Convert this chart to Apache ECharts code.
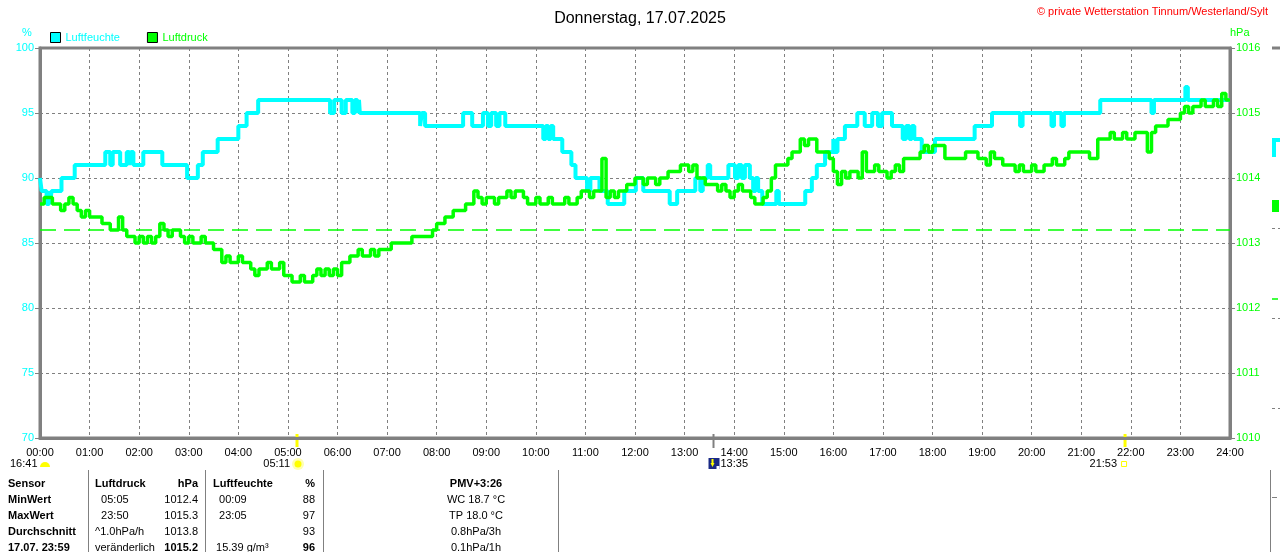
<!DOCTYPE html>
<html>
<head>
<meta charset="utf-8">
<title>Donnerstag, 17.07.2025</title>
<script src="https://cdn.jsdelivr.net/npm/echarts@6/dist/echarts.min.js"></script>
<style>
  html, body { margin: 0; padding: 0; background: #fff; }
  #chart { width: 1280px; height: 552px; }
</style>
</head>
<body>
<div id="chart"></div>
<script>
// Tageskurve Luftfeuchte / Luftdruck, x-Achse in Minuten ab 00:00
const chartTitle = 'Donnerstag, 17.07.2025';
const copyright = '\u00a9 private Wetterstation Tinnum/Westerland/Sylt';

const hourLabels = ['00:00','01:00','02:00','03:00','04:00','05:00','06:00','07:00','08:00',
  '09:00','10:00','11:00','12:00','13:00','14:00','15:00','16:00','17:00','18:00','19:00',
  '20:00','21:00','22:00','23:00','24:00'];

// Luftfeuchte in %: [Minute, Wert], Wert gilt bis zum naechsten Eintrag
const humidity = [
  [0,90],[2,89],[8,88],[11,89],[12,88],[14,89],[26,90],[42,91],[79,92],[85,91],[88,92],
  [97,91],[105,92],[108,91],[110,92],[113,91],[125,92],[148,91],[178,90],[191,91],[197,92],
  [215,93],[240,94],[250,95],[264,96],[351,95],[356,96],[365,95],[370,96],[378,95],[381,96],
  [384,95],[386,96],[387,95],[460,94],[462,95],[466,94],[512,95],[523,94],[536,95],[542,94],
  [546,95],[552,94],[556,95],[563,94],[609,93],[612,94],[615,93],[618,94],[621,93],[632,92],
  [643,91],[648,90],[662,89],[666,90],[677,89],[687,88],[707,89],[721,90],[730,89],[762,88],
  [771,89],[793,90],[799,89],[802,90],[808,91],[811,90],[833,91],[841,90],[845,91],[849,90],
  [853,91],[859,90],[863,89],[866,90],[869,89],[874,88],[891,89],[894,88],[926,89],[934,90],
  [940,91],[950,92],[960,93],[962,92],[965,93],[974,94],[989,95],[998,94],[1007,95],[1014,94],
  [1019,95],[1031,94],[1044,93],[1048,94],[1052,93],[1055,94],[1058,93],[1067,92],[1083,93],
  [1131,94],[1152,95],[1186,94],[1189,95],[1224,94],[1227,95],[1236,94],[1239,95],[1283,96],
  [1345,95],[1348,96],[1386,97],[1389,96],[1440,96]
];

// Luftdruck in hPa, alle 5 Minuten ab 00:00 (eine Zeile je Stunde)
const pressure = [
  1013.6,1013.7,1013.7,1013.6,1013.6,1013.5,1013.6,1013.7,1013.6,1013.5,1013.4,1013.5,
  1013.4,1013.4,1013.4,1013.3,1013.3,1013.2,1013.2,1013.4,1013.2,1013.1,1013.1,1013.0,
  1013.1,1013.0,1013.1,1013.0,1013.1,1013.3,1013.2,1013.1,1013.2,1013.2,1013.1,1013.0,
  1013.1,1013.0,1013.0,1013.1,1013.0,1013.0,1012.9,1012.9,1012.7,1012.8,1012.7,1012.7,
  1012.8,1012.7,1012.7,1012.6,1012.5,1012.6,1012.6,1012.7,1012.6,1012.6,1012.7,1012.5,
  1012.5,1012.4,1012.4,1012.5,1012.4,1012.4,1012.5,1012.6,1012.5,1012.6,1012.5,1012.6,
  1012.5,1012.7,1012.7,1012.8,1012.8,1012.9,1012.8,1012.8,1012.9,1012.8,1012.9,1012.9,
  1012.9,1013.0,1013.0,1013.0,1013.0,1013.0,1013.1,1013.1,1013.1,1013.1,1013.1,1013.2,
  1013.3,1013.3,1013.4,1013.4,1013.5,1013.5,1013.5,1013.6,1013.6,1013.8,1013.7,1013.6,
  1013.7,1013.7,1013.6,1013.7,1013.7,1013.8,1013.7,1013.8,1013.8,1013.7,1013.6,1013.6,
  1013.7,1013.6,1013.6,1013.7,1013.6,1013.6,1013.6,1013.7,1013.6,1013.6,1013.7,1013.8,
  1013.8,1013.7,1013.8,1013.8,1014.3,1013.7,1013.8,1013.7,1013.8,1013.8,1013.9,1013.9,
  1014.0,1014.0,1013.9,1014.0,1014.0,1013.9,1014.0,1014.0,1014.1,1014.1,1014.1,1014.2,
  1014.2,1014.1,1014.2,1014.0,1014.0,1013.9,1013.9,1013.9,1013.8,1013.9,1013.8,1013.7,
  1013.8,1013.9,1013.8,1013.8,1013.7,1013.6,1013.6,1013.7,1013.8,1014.0,1014.2,1014.2,
  1014.2,1014.3,1014.4,1014.4,1014.6,1014.5,1014.6,1014.6,1014.4,1014.4,1014.4,1014.3,
  1014.1,1013.9,1014.1,1014.0,1014.1,1014.1,1014.0,1014.4,1014.1,1014.1,1014.2,1014.1,
  1014.1,1014.0,1014.1,1014.2,1014.1,1014.3,1014.3,1014.3,1014.3,1014.4,1014.5,1014.4,
  1014.5,1014.5,1014.5,1014.3,1014.3,1014.3,1014.3,1014.3,1014.4,1014.4,1014.4,1014.3,
  1014.3,1014.2,1014.4,1014.3,1014.3,1014.2,1014.2,1014.2,1014.1,1014.2,1014.1,1014.1,
  1014.2,1014.1,1014.1,1014.2,1014.2,1014.3,1014.2,1014.2,1014.3,1014.4,1014.4,1014.4,
  1014.4,1014.4,1014.3,1014.3,1014.6,1014.6,1014.6,1014.7,1014.6,1014.6,1014.7,1014.6,
  1014.6,1014.7,1014.7,1014.7,1014.4,1014.7,1014.8,1014.8,1014.8,1014.9,1014.9,1014.9,
  1015.0,1015.1,1015.0,1015.1,1015.1,1015.2,1015.1,1015.1,1015.2,1015.1,1015.3,1015.2,
  1015.2
];
const pressureStep = 5;
const refPressure = 1013.2;

// Sonnenzeiten (Tageslaenge, Aufgang, Hoechststand, Untergang)
const dayLength = '16:41';
const sunRise = '05:11';
const sunNoon = '13:35';
const sunSet = '21:53';

// Tabelle unter dem Diagramm
const tableRows = [
  ['Sensor', 'Luftdruck', 'hPa', 'Luftfeuchte', '%', 'PMV+3:26'],
  ['MinWert', '  05:05', '1012.4', '  00:09', '88', 'WC 18.7 \u00b0C'],
  ['MaxWert', '  23:50', '1015.3', '  23:05', '97', 'TP 18.0 \u00b0C'],
  ['Durchschnitt', '^1.0hPa/h', '1013.8', '', '93', '0.8hPa/3h'],
  ['17.07. 23:59', 'ver\u00e4nderlich', '1015.2', ' 15.39 g/m\u00b3', '96', '0.1hPa/1h']
];

const FONT = "'Liberation Sans', Arial, sans-serif";
const CYAN = '#00ffff';
const GREEN = '#00ff00';
const GREY = '#808080';

function toMinutes(hhmm) {
  const p = hhmm.split(':');
  return (+p[0]) * 60 + (+p[1]);
}

const chart = echarts.init(document.getElementById('chart'));

chart.setOption({
  animation: false,
  backgroundColor: '#fff',
  title: {
    text: chartTitle,
    left: 'center',
    top: 6,
    textStyle: { fontFamily: FONT, fontSize: 16, fontWeight: 'normal', color: '#000' }
  },
  legend: {
    left: 50,
    top: 32,
    padding: 0,
    itemWidth: 10,
    itemHeight: 10,
    itemGap: 27,
    icon: 'rect',
    selectedMode: false,
    itemStyle: { borderColor: '#000', borderWidth: 1 },
    textStyle: { fontFamily: FONT, fontSize: 11 },
    data: [
      { name: 'Luftfeuchte', textStyle: { color: CYAN } },
      { name: 'Luftdruck', textStyle: { color: GREEN } }
    ]
  },
  grid: {
    left: 40, right: 50, top: 48, bottom: 114,
    show: true, borderColor: GREY, borderWidth: 3
  },
  xAxis: {
    type: 'value',
    min: 0, max: 1440, interval: 60,
    axisLine: { lineStyle: { color: GREY, width: 3 } },
    axisTick: { show: false },
    axisLabel: {
      color: '#000', fontFamily: FONT, fontSize: 11, margin: 9,
      showMinLabel: true, showMaxLabel: true,
      formatter: v => hourLabels[Math.round(v / 60)]
    },
    splitLine: { show: true, lineStyle: { color: GREY, type: [3, 3], width: 1 } }
  },
  yAxis: [
    {
      type: 'value', position: 'left',
      min: 70, max: 100, interval: 5,
      axisLine: { show: true, lineStyle: { color: GREY, width: 3 } },
      axisTick: { show: true, length: 5, lineStyle: { color: GREY, width: 1 } },
      axisLabel: { color: CYAN, fontFamily: FONT, fontSize: 11, margin: 6 },
      splitLine: { show: true, lineStyle: { color: GREY, type: [3, 3], width: 1 } }
    },
    {
      type: 'value', position: 'right',
      min: 1010, max: 1016, interval: 1,
      axisLine: { show: true, lineStyle: { color: GREY, width: 3 } },
      axisTick: { show: true, length: 5, lineStyle: { color: GREY, width: 1 } },
      axisLabel: { color: GREEN, fontFamily: FONT, fontSize: 11, margin: 6, formatter: v => String(v) },
      splitLine: { show: false }
    }
  ],
  series: [
    {
      name: 'Luftfeuchte',
      type: 'line',
      yAxisIndex: 0,
      step: 'end',
      showSymbol: false,
      color: CYAN,
      lineStyle: { color: CYAN, width: 4 },
      data: humidity
    },
    {
      name: 'Luftdruck',
      type: 'line',
      yAxisIndex: 1,
      step: 'end',
      showSymbol: false,
      color: GREEN,
      lineStyle: { color: GREEN, width: 3.5 },
      data: pressure.map((v, i) => [i * pressureStep, v]),
      markLine: {
        silent: true,
        symbol: 'none',
        label: { show: false },
        lineStyle: { color: GREEN, type: [16, 8], width: 1.5 },
        data: [{ yAxis: refPressure }]
      }
    }
  ]
});

// Beschriftungen, Sonnenmarken, Tabelle
function textEl(x, y, text, color, opts) {
  opts = opts || {};
  return {
    type: 'text', x: x, y: y, silent: true,
    style: {
      text: text, fill: color,
      font: (opts.bold ? 'bold ' : '') + (opts.size || 11) + 'px ' + FONT,
      textAlign: opts.align || 'left', align: opts.align || 'left',
      textVerticalAlign: 'middle', verticalAlign: 'middle'
    }
  };
}
function lineEl(x1, y1, x2, y2, color, width, dash) {
  return {
    type: 'line', silent: true,
    shape: { x1: x1, y1: y1, x2: x2, y2: y2 },
    style: { stroke: color, lineWidth: width, lineDash: dash || null }
  };
}

const els = [];
const xPix = m => chart.convertToPixel({ xAxisIndex: 0 }, m);
const axisY = chart.convertToPixel({ yAxisIndex: 0 }, 70);

els.push(textEl(1268, 12, copyright, '#ff0000', { align: 'right' }));
els.push(textEl(27, 33, '%', CYAN, { align: 'center' }));
els.push(textEl(1230, 33, 'hPa', GREEN));

// Sonnenaufgang
const xr = xPix(toMinutes(sunRise));
els.push(lineEl(xr, axisY - 4, xr, axisY + 9, '#ffff00', 3));
els.push(textEl(xr - 7, 464, sunRise, '#000', { align: 'right' }));
els.push({ type: 'circle', silent: true, shape: { cx: xr + 1, cy: 464, r: 6 }, style: { fill: '#ffffb0' } });
els.push({ type: 'circle', silent: true, shape: { cx: xr + 1, cy: 464, r: 3.5 }, style: { fill: '#ffff00' } });

// Hoechststand
const xn = xPix(toMinutes(sunNoon));
els.push(lineEl(xn, axisY - 4, xn, axisY + 10, GREY, 2));
els.push({ type: 'rect', silent: true, shape: { x: xn - 5, y: 458, width: 11, height: 11 }, style: { fill: '#1a2a86' } });
els.push({ type: 'polygon', silent: true, shape: { points: [[xn - 3, 463], [xn + 1, 463], [xn - 1, 467]] }, style: { fill: '#ffff00' } });
els.push(lineEl(xn - 1, 459, xn - 1, 464, '#ffff00', 2));
els.push({ type: 'rect', silent: true, shape: { x: xn + 3, y: 466, width: 3, height: 3 }, style: { fill: '#ffffff' } });
els.push(textEl(xn + 7, 464, sunNoon, '#000'));

// Sonnenuntergang
const xs = xPix(toMinutes(sunSet));
els.push(lineEl(xs, axisY - 4, xs, axisY + 9, '#ffff00', 3));
els.push(textEl(xs - 8, 464, sunSet, '#000', { align: 'right' }));
els.push({ type: 'rect', silent: true, shape: { x: xs - 3.5, y: 461.5, width: 5, height: 5 }, style: { fill: 'none', stroke: '#ffff00', lineWidth: 1 } });

// Tageslaenge
els.push(textEl(10, 464, dayLength, '#000'));
els.push({ type: 'sector', silent: true, shape: { cx: 45, cy: 467, r0: 0, r: 5, startAngle: Math.PI, endAngle: Math.PI * 2 }, style: { fill: '#ffff00' } });

// Tabelle
const colX = [8, 95, 198, 213, 315, 476];
const colAlign = ['left', 'left', 'right', 'left', 'right', 'center'];
const rowY = [484, 500, 516, 532, 548];
tableRows.forEach((row, r) => {
  row.forEach((cell, c) => {
    if (!cell) return;
    const bold = r === 0 || c === 0 || (r === 4 && (c === 2 || c === 4));
    els.push(textEl(colX[c], rowY[r], cell, '#000', { bold: bold, align: colAlign[c] }));
  });
});
[88, 205, 323, 558, 1270].forEach(x => els.push(lineEl(x + 0.5, 470, x + 0.5, 552, GREY, 1)));
els.push(lineEl(1272, 497.5, 1277, 497.5, GREY, 1));

// Rand des naechsten Diagramms rechts
els.push(lineEl(1272, 48, 1280, 48, GREY, 3));
els.push({ type: 'polyline', silent: true, shape: { points: [[1274, 157], [1274, 140], [1280, 140]] }, style: { stroke: CYAN, lineWidth: 4, fill: null } });
els.push({ type: 'rect', silent: true, shape: { x: 1272, y: 200, width: 7, height: 12 }, style: { fill: GREEN } });
els.push(lineEl(1272, 299, 1278, 299, GREEN, 1.5));
[228, 318, 408].forEach(y => els.push(lineEl(1272, y + 0.5, 1280, y + 0.5, GREY, 1, [3, 3])));

chart.setOption({ graphic: { elements: els } });
</script>
</body>
</html>
